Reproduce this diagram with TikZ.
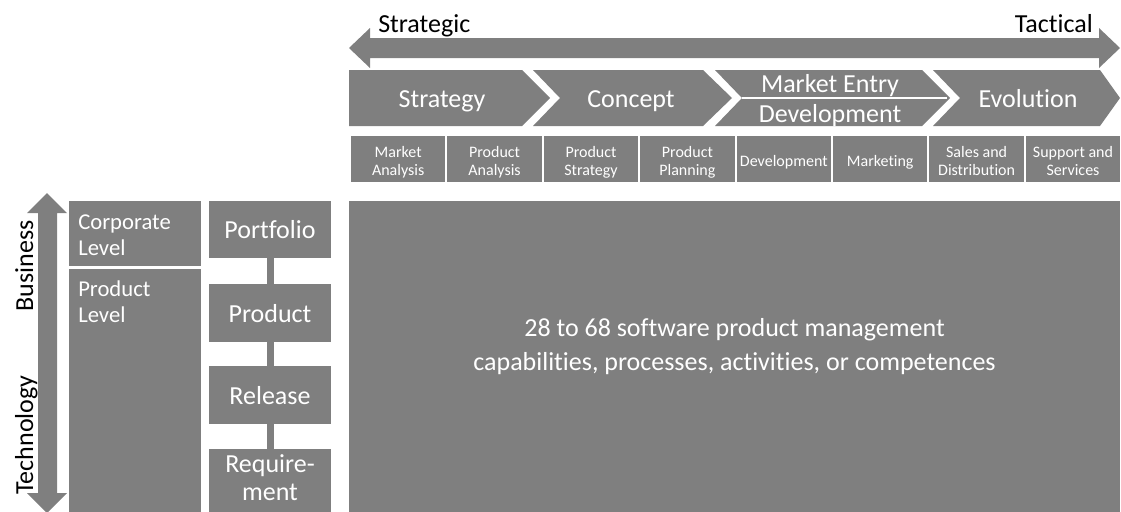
\documentclass[tikz,border=0pt]{standalone}
\usepackage{fontspec}
\setmainfont{Carlito}[Ligatures={NoCommon}]
\definecolor{boxgray}{HTML}{7F7F7F}
\begin{document}
\begin{tikzpicture}[x=0.75pt,y=-0.75pt,
  graybox/.style={fill=boxgray, draw=none, inner sep=0pt, outer sep=0pt},
  bigtxt/.style={text=white, inner sep=0pt, font=\fontsize{19.5}{20.5}\selectfont},
  blacktxt/.style={text=black, inner sep=0pt, font=\fontsize{19.5}{20.5}\selectfont},
  smalltxt/.style={text=white, inner sep=0pt, align=center, font=\fontsize{12}{13.5}\selectfont},
  leveltxt/.style={text=white, inner sep=0pt, align=left, font=\fontsize{17}{19.5}\selectfont},
  centertxt/.style={text=white, inner sep=0pt, align=center, font=\fontsize{19.5}{25.5}\selectfont},
  conn/.style={draw=boxgray, line width=5.25pt},
  smallbox/.style={graybox, minimum width=70.8pt, minimum height=34.5pt},
  levelbox/.style={graybox, text=white, font=\fontsize{19.5}{20.5}\selectfont, minimum width=91.5pt, text height=13.5pt, text depth=0pt}
]
\clip (0,0) rectangle (1121,511);
\useasboundingbox (0,0) rectangle (1121,511);

% horizontal double arrow
\fill[boxgray] (349,48) -- (370,28) -- (370,38) -- (1099,38) -- (1099,28) -- (1120,48)
  -- (1099,68) -- (1099,58) -- (370,58) -- (370,68) -- cycle;
\node[blacktxt, anchor=base west] (strategic) at (378,32) {Strategic};
\node[blacktxt, anchor=base east] (tactical) at (1093,32) {Tactical};

% chevrons
\fill[boxgray] (349,70) -- (522,70) -- (550,98) -- (522,126) -- (349,126) -- cycle;
\fill[boxgray] (533,70) -- (703,70) -- (732,98) -- (703,126) -- (533,126) -- (560,98) -- cycle;
\fill[boxgray] (715,70) -- (922,70) -- (950,98) -- (922,126) -- (715,126) -- (742,98) -- cycle;
\draw[white, line width=1.5pt] (742,98) -- (947,98);
\fill[boxgray] (933,70) -- (1100,70) -- (1120,98) -- (1100,126) -- (933,126) -- (960,98) -- cycle;
\node[bigtxt, anchor=base] (strategy) at (442,107) {Strategy};
\node[bigtxt, anchor=base] (concept) at (631,107) {Concept};
\node[bigtxt, anchor=base] (marketentry) at (830,92) {Market Entry};
\node[bigtxt, anchor=base] (development) at (830,122) {Development};
\node[bigtxt, anchor=base] (evolution) at (1028,107) {Evolution};

% small boxes
\node[smallbox] (b1) at (398.2,159) {};
\node[smallbox] (b2) at (494.6,159) {};
\node[smallbox] (b3) at (591.0,159) {};
\node[smallbox] (b4) at (687.4,159) {};
\node[smallbox] (b5) at (783.8,159) {};
\node[smallbox] (b6) at (880.2,159) {};
\node[smallbox] (b7) at (976.6,159) {};
\node[smallbox] (b8) at (1073.0,159) {};
\node[smalltxt, anchor=base] (t1) at (398.2,175) {Market\\Analysis};
\node[smalltxt, anchor=base] (t2) at (494.6,175) {Product\\Analysis};
\node[smalltxt, anchor=base] (t3) at (591.0,175) {Product\\Strategy};
\node[smalltxt, anchor=base] (t4) at (687.4,175) {Product\\Planning};
\node[smalltxt, anchor=base] (t5) at (783.8,166) {Development};
\node[smalltxt, anchor=base] (t6) at (880.2,166) {Marketing};
\node[smalltxt, anchor=base] (t7) at (976.6,175) {Sales and\\Distribution};
\node[smalltxt, anchor=base] (t8) at (1073.0,175) {Support and\\Services};

% big box
\node[graybox, minimum width=578.25pt, minimum height=235.5pt] (big) at (734.5,358) {};
\node[centertxt, anchor=base] (bigtext) at (734.5,370) {28 to 68 software product management\\capabilities, processes, activities, or competences};

% vertical double arrow
\fill[boxgray] (47,193) -- (67,213) -- (57,213) -- (57,493) -- (67,493) -- (47,513)
  -- (27,493) -- (38,493) -- (38,213) -- (27,213) -- cycle;
\node[blacktxt, rotate=90, anchor=base] (business) at (33,266) {Business};
\node[blacktxt, rotate=90, anchor=base] (technology) at (33,435) {Technology};

% level boxes
\node[graybox, minimum width=99pt, minimum height=48.75pt] (corp) at (135,233.5) {};
\node[graybox, minimum width=99pt, minimum height=184.5pt] (prodlvl) at (135,392) {};
\node[leveltxt, anchor=base west] (corptxt) at (78,255) {Corporate\\Level};
\node[leveltxt, anchor=base west] (prodlvltxt) at (78,322) {Product\\Level};

% stacked boxes
\node[levelbox, minimum height=42.75pt] (portfolio) at (270,229.5) {Portfolio};
\node[levelbox, minimum height=43.5pt] (product) at (270,313) {Product};
\node[levelbox, minimum height=43.5pt] (release) at (270,395) {Release};
\node[graybox, minimum width=91.5pt, minimum height=49.5pt] (requirement) at (270,482) {};
\node[bigtxt, align=center, font=\fontsize{19.5}{20.5}\selectfont, anchor=base] (reqtxt) at (270,500) {Require-\\ment};
\draw[conn] (portfolio) -- (product);
\draw[conn] (product) -- (release);
\draw[conn] (release) -- (requirement);
\end{tikzpicture}
\end{document}
